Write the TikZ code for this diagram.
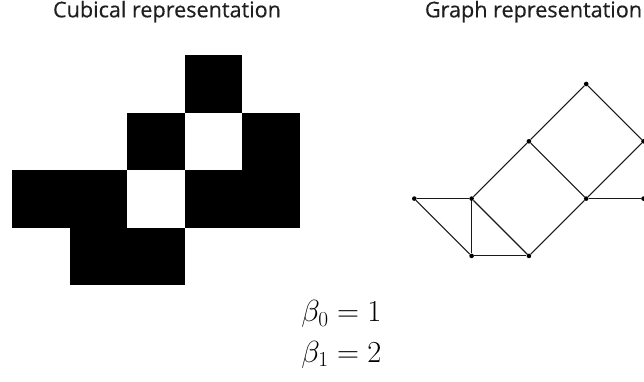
\documentclass[tikz,border=0pt]{standalone}
\usepackage{fix-cm}
\usepackage{fontspec}
\newfontfamily\titlefont[FakeBold=0.4]{Open Sans}
\begin{document}
\begin{tikzpicture}[x=1pt,y=-1pt,
  cell/.style={fill=black},
  vtx/.style={circle,fill=black,inner sep=0pt,minimum size=4.6pt},
  edge/.style={line width=1.1pt,black!90},
  title/.style={font=\titlefont\fontsize{21.6}{24}\selectfont,text=black!88,anchor=base},
  betas/.style={font=\fontsize{30.5}{36}\selectfont,anchor=base}]
\useasboundingbox (0,0) rectangle (644,381);
% cubical representation
\def\cs{57.6}
\foreach \c/\r in {3/0, 2/1, 4/1, 0/2, 1/2, 3/2, 4/2, 1/3, 2/3}{
  \fill[cell] ({12+\c*\cs},{55+\r*\cs}) rectangle ++(\cs,\cs);
}
\node[title] (t1) at (167,17.3) {Cubical representation};
\node[title] (t2) at (533.5,17.3) {Graph representation};
% graph representation
\begin{scope}
\clip (0,0) rectangle (644,381);
\def\gs{57.3}
\foreach \n/\i/\j in {a/3/0, b/2/1, c/4/1, d/0/2, e/1/2, f/3/2, g/4/2, h/1/3, k/2/3}{
  \node[vtx] (\n) at ({414.3+\i*\gs},{84+\j*\gs}) {};
}
\draw[edge] (a) -- (b);
\draw[edge] (a) -- (c);
\draw[edge] (b) -- (e);
\draw[edge] (b) -- (f);
\draw[edge] (c) -- (f);
\draw[edge] (d) -- (e);
\draw[edge] (d) -- (h);
\draw[edge] (e) -- (h);
\draw[edge] (e) -- (k);
\draw[edge] (h) -- (k);
\draw[edge] (k) -- (f);
\draw[edge] (f) -- (g);
\end{scope}
% Betti numbers
\node[betas] (b0) at (341.5,321.7) {$\beta_0 = 1$};
\node[betas] (b1) at (341.5,362.3) {$\beta_1 = 2$};
\end{tikzpicture}
\end{document}
